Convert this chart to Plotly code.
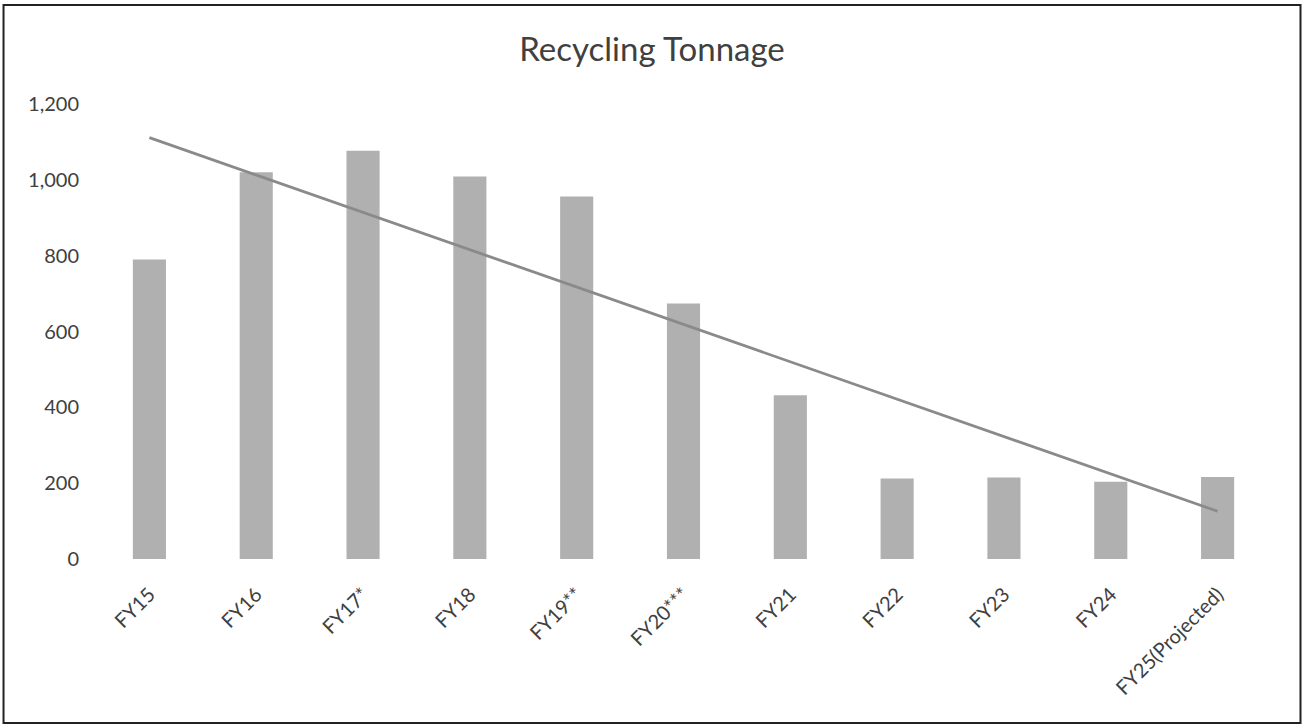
import numpy as np
import plotly.graph_objects as go

years = ["FY15", "FY16", "FY17*", "FY18", "FY19**", "FY20***",
         "FY21", "FY22", "FY23", "FY24", "FY25(Projected)"]
tonnage = [790, 1020, 1077, 1009, 956, 674, 432, 212, 215, 204, 216]
y_ticks = [0, 200, 400, 600, 800, 1000, 1200]

# linear trendline like Excel's
idx = np.arange(len(years))
slope, intercept = np.polyfit(idx, tonnage, 1)
trend = slope * idx + intercept

fig = go.Figure()
fig.add_trace(go.Bar(x=years, y=tonnage, marker_color="#b0b0b0",
                     marker_line_width=0, width=0.31, showlegend=False))
fig.add_trace(go.Scatter(x=years, y=trend, mode="lines",
                         line=dict(color="#8a8a8a", width=2.8), showlegend=False))

fig.update_layout(
    width=1304, height=725,
    margin=dict(l=95.5, r=32.5, t=104, b=166),
    paper_bgcolor="white", plot_bgcolor="white",
    font=dict(family="Lato", color="#404040", size=19),
    title=dict(text="Recycling Tonnage", x=0.5, xanchor="center",
               y=0.932, yanchor="middle", font=dict(size=33, color="#404040")),
    xaxis=dict(showgrid=False, showline=False, zeroline=False,
               tickangle=-45, ticks="", ticklabelstandoff=19,
               tickfont=dict(size=20)),
    yaxis=dict(range=[0, 1200], tickvals=y_ticks, tickformat=",d",
               showgrid=False, showline=False, zeroline=False,
               ticks="", ticklabelstandoff=16, tickfont=dict(size=20)),
    shapes=[dict(type="rect", xref="paper", yref="paper",
                 x0=-0.0787, x1=1.0251, y0=-0.3604, y1=1.2176,
                 line=dict(color="#222222", width=2))],
)

fig.write_html("out.html", config={"displayModeBar": False},
               post_script="document.body.style.margin='0';")
